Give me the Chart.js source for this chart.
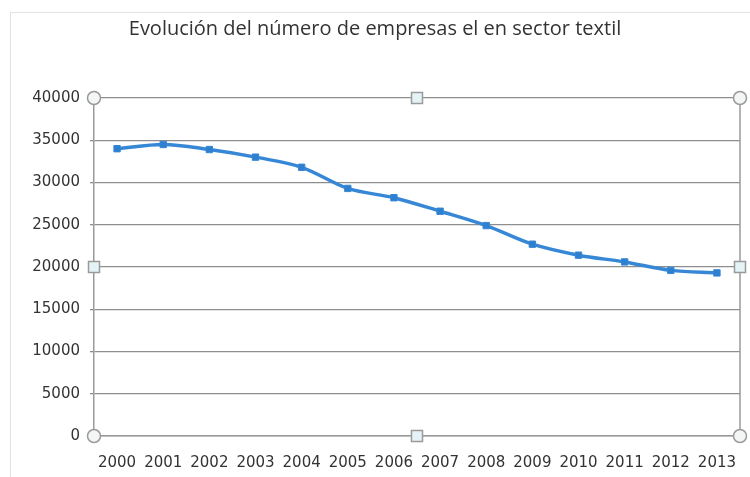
<!DOCTYPE html>
<html>
<head>
<meta charset="utf-8">
<script src="https://cdn.jsdelivr.net/npm/chart.js@4/dist/chart.umd.min.js"></script>
<style>
  html, body { margin: 0; padding: 0; background: #fff; }
  #wrap { position: relative; width: 750px; height: 477px; }
  #frame { position: absolute; left: 10px; top: 12px; width: 760px; height: 470px; border: 1px solid #e2e2e2; }
  canvas { position: absolute; left: 0; top: 0; }
</style>
</head>
<body>
<div id="wrap">
  <div id="frame"></div>
  <canvas id="lineChart" width="750" height="477"></canvas>
</div>
<script>
const years = ['2000', '2001', '2002', '2003', '2004', '2005', '2006',
  '2007', '2008', '2009', '2010', '2011', '2012', '2013'];
const empresas = [34000, 34500, 33900, 33000, 31800, 29300, 28200,
  26600, 24900, 22700, 21400, 20600, 19600, 19300];
const yTicks = [0, 5000, 10000, 15000, 20000, 25000, 30000, 35000, 40000];

// selection frame + handles like the Excel screenshot
const handles = {
  id: 'handles',
  afterDraw(chart) {
    const { ctx, chartArea: a } = chart;
    const mx = (a.left + a.right) / 2, my = (a.top + a.bottom) / 2;
    ctx.save();
    ctx.strokeStyle = '#9a9a9a';
    ctx.lineWidth = 1.5;
    ctx.beginPath();
    ctx.moveTo(a.right, a.top);
    ctx.lineTo(a.right, a.bottom);
    ctx.stroke();
    [[a.left, a.top], [a.right, a.top], [a.left, a.bottom], [a.right, a.bottom]].forEach(([x, y]) => {
      ctx.beginPath();
      ctx.arc(x, y, 6.5, 0, Math.PI * 2);
      ctx.fillStyle = '#f4f6f6';
      ctx.fill();
      ctx.stroke();
    });
    [[mx, a.top], [mx, a.bottom], [a.left, my], [a.right, my]].forEach(([x, y]) => {
      ctx.fillStyle = '#e4f4f6';
      ctx.fillRect(x - 5.5, y - 5.5, 11, 11);
      ctx.strokeRect(x - 5.5, y - 5.5, 11, 11);
    });
    ctx.restore();
  }
};

new Chart(document.getElementById('lineChart'), {
  type: 'line',
  data: {
    labels: years,
    datasets: [{
      data: empresas,
      borderColor: '#3687d6',
      backgroundColor: '#2f7fcf',
      borderWidth: 3.5,
      cubicInterpolationMode: 'monotone',
      pointStyle: 'rect',
      pointRadius: 4.5,
      pointBorderWidth: 1
    }]
  },
  options: {
    responsive: false,
    animation: false,
    layout: { padding: { left: 10, right: 10, top: 0, bottom: 0 } },
    plugins: {
      legend: { display: false },
      tooltip: { enabled: false },
      title: {
        display: true,
        text: 'Evolución del número de empresas el en sector textil',
        color: '#333333',
        font: { family: 'Open Sans', size: 20, weight: 'normal' },
        padding: { top: 17, bottom: 57 }
      }
    },
    scales: {
      x: {
        offset: true,
        grid: { display: false, offset: true },
        border: { color: '#9a9a9a', width: 1.5 },
        ticks: {
          color: '#333333',
          font: { family: 'DejaVu Sans', size: 15 },
          padding: 10,
          maxRotation: 0,
          autoSkip: false
        },
        afterFit(scale) { scale.height = 41; }
      },
      y: {
        min: 0,
        max: 40000,
        afterBuildTicks(scale) { scale.ticks = yTicks.map(v => ({ value: v })); },
        grid: { color: '#8e8e8e', lineWidth: 1.3, tickLength: 4 },
        border: { color: '#9a9a9a', width: 1.5 },
        ticks: {
          color: '#333333',
          font: { family: 'DejaVu Sans', size: 15 },
          padding: 10,
          callback: v => String(v)
        },
        afterFit(scale) { scale.width = 84; }
      }
    }
  },
  plugins: [handles]
});
</script>
</body>
</html>
